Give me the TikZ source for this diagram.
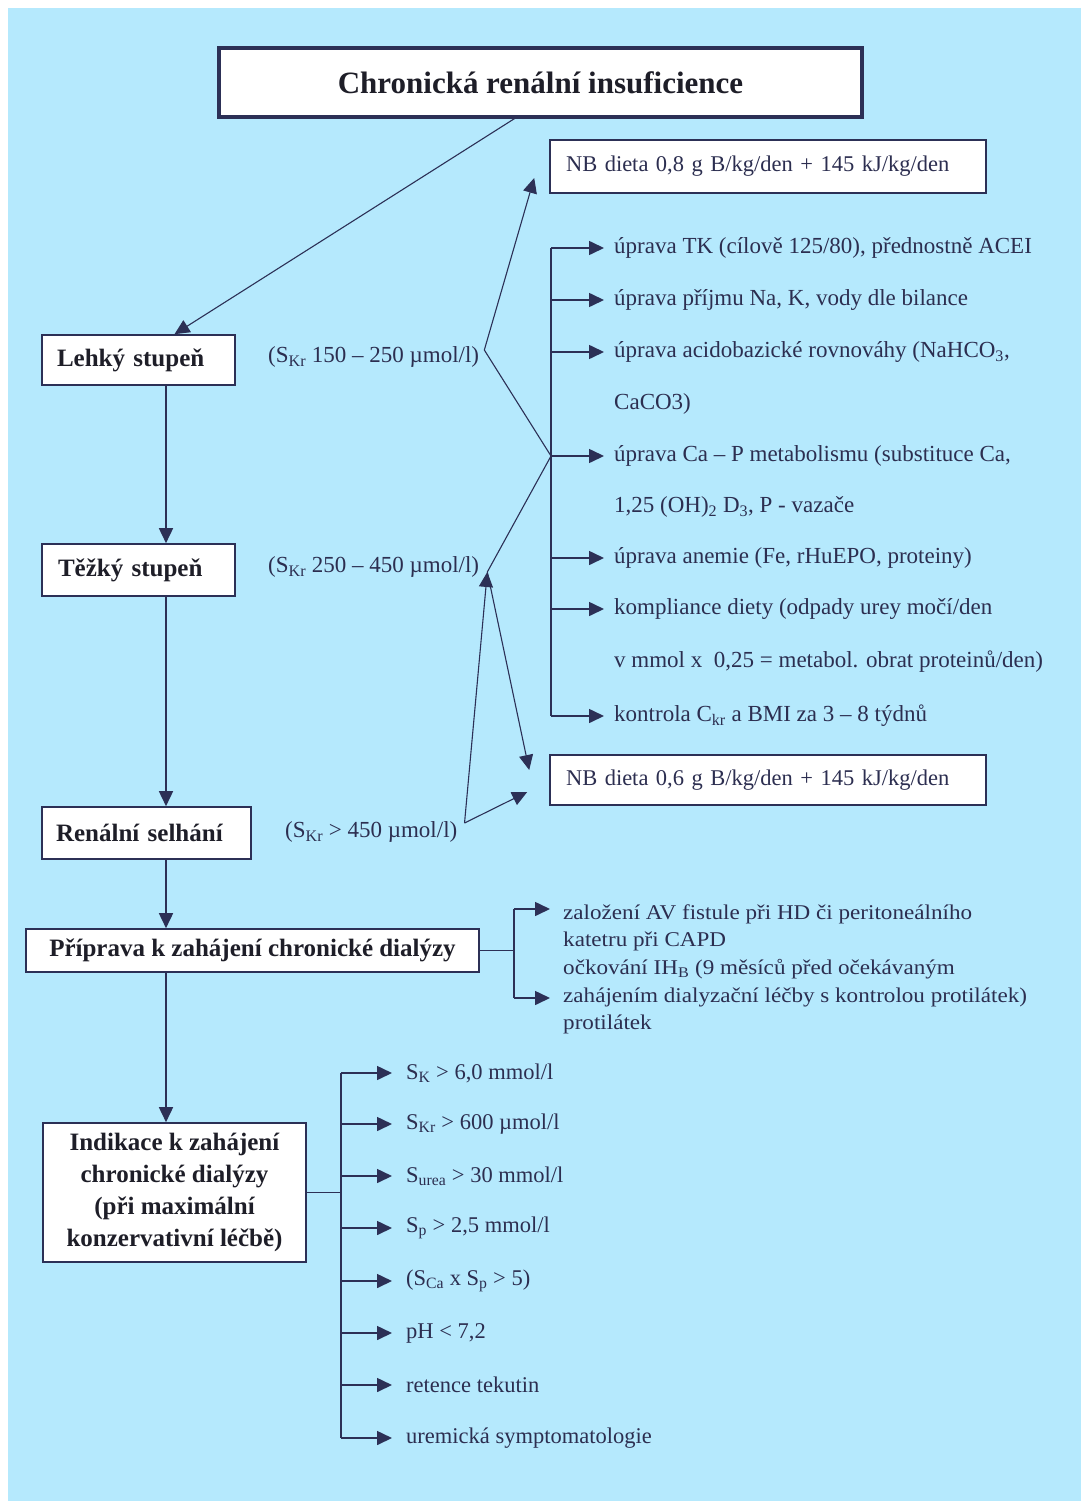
\documentclass[tikz,border=0pt]{standalone}
\usepackage{fontspec}
\setmainfont{Liberation Serif}
\newfontfamily\wideserif{Liberation Serif}[FakeStretch=1.1]
\usetikzlibrary{arrows.meta,calc}
\definecolor{bg}{RGB}{181,233,253}
\definecolor{linec}{RGB}{44,48,86}
\definecolor{labtext}{RGB}{44,46,80}
\definecolor{boxtext}{RGB}{30,30,40}
\tikzset{
  box/.style={draw=linec, fill=white, line width=1.6pt, inner sep=0pt, text=boxtext},
  boxfont/.style={font=\fontsize{25}{32}\selectfont\bfseries},
  lab/.style={inner sep=0pt, anchor=west, text=labtext, font=\fontsize{23}{27}\selectfont},
  itemtxt/.style={inner sep=0pt, anchor=west, text=labtext, font=\fontsize{23}{27}\selectfont},
  preptxt/.style={inner sep=0pt, anchor=west, text=labtext, font=\wideserif\fontsize{21}{25}\selectfont},
  indtxt/.style={inner sep=0pt, anchor=west, text=labtext, font=\fontsize{22.5}{27}\selectfont},
  ln/.style={draw=linec, line width=1.6pt},
  thin/.style={draw=linec, line width=1.1pt},
  tip/.style={-{Triangle[length=15pt,width=14pt]}},
  arr/.style={draw=linec, line width=1.6pt, tip},
  thinarr/.style={draw=linec, line width=1.1pt, tip},
}
\begin{document}
\begin{tikzpicture}[x=1pt,y=-1pt]
\useasboundingbox (0,0) rectangle (1081,1501);
\fill[white] (0,0) rectangle (1081,1501);
\fill[bg] (8,8) rectangle (1081,1501);

% main boxes
\node[box, line width=3.2pt, minimum width=643pt, minimum height=69pt,
      font=\fontsize{31}{36}\selectfont\bfseries] (title) at (540.5,82.5) {Chronická renální insuficience};
\node[box, boxfont, minimum width=193pt, minimum height=50pt, text width=163pt, align=left] (lehky) at (138.5,360) {Lehký stupeň};
\node[box, boxfont, minimum width=193pt, minimum height=52pt, text width=161pt, align=left] (tezky) at (138.5,570) {Těžký stupeň};
\node[box, boxfont, minimum width=209pt, minimum height=52pt, text width=181pt, align=left] (renal) at (146.5,833) {Renální selhání};
\node[box, boxfont, minimum width=453pt, minimum height=43pt] (prip) at (252.5,950.5) {Příprava k zahájení chronické dialýzy};
\node[box, boxfont, minimum width=263pt, minimum height=139pt, align=center] (ind) at (174.5,1192.5)
  {Indikace k zahájení\\chronické dialýzy\\(při maximální\\konzervativní léčbě)};

% diet boxes
\node[box, minimum width=436pt, minimum height=53pt, text width=404pt, align=left,
      font=\fontsize{22.5}{27}\selectfont, text=labtext] (nb1) at (768,166.5) {NB dieta 0,8 g B/kg/den + 145 kJ/kg/den};
\node[box, minimum width=436pt, minimum height=50pt, text width=404pt, align=left,
      font=\fontsize{22.5}{27}\selectfont, text=labtext] (nb2) at (768,780) {NB dieta 0,6 g B/kg/den + 145 kJ/kg/den};

% stage labels
\node[lab] (l1) at (268,357) {(S\textsubscript{Kr} 150 – 250 µmol/l)};
\node[lab] (l2) at (268,567) {(S\textsubscript{Kr} 250 – 450 µmol/l)};
\node[lab] (l3) at (285,832) {(S\textsubscript{Kr} > 450 µmol/l)};

% right treatment list
\node[itemtxt] (it1) at (614,248) {úprava TK (cílově 125/80), přednostně ACEI};
\node[itemtxt] (it2) at (614,300) {úprava příjmu Na, K, vody dle bilance};
\node[itemtxt] (it3) at (614,352) {úprava acidobazické rovnováhy (NaHCO\textsubscript{3},};
\node[itemtxt] (it3b) at (614,404) {CaCO3)};
\node[itemtxt] (it4) at (614,456) {úprava Ca – P metabolismu (substituce Ca,};
\node[itemtxt] (it4b) at (614,507) {1,25 (OH)\textsubscript{2} D\textsubscript{3}, P - vazače};
\node[itemtxt] (it5) at (614,558) {úprava anemie (Fe, rHuEPO, proteiny)};
\node[itemtxt] (it6) at (614,609) {kompliance diety (odpady urey močí/den};
\node[itemtxt] (it6b) at (614,662) {v mmol x \ 0,25 = metabol. obrat proteinů/den)};
\node[itemtxt] (it7) at (614,716) {kontrola C\textsubscript{kr} a BMI za 3 – 8 týdnů};

% preparation list
\node[preptxt] (pt1) at (563,914) {založení AV fistule při HD či peritoneálního};
\node[preptxt] (pt2) at (563,941) {katetru při CAPD};
\node[preptxt] (pt3) at (563,969) {očkování IH\textsubscript{B} (9 měsíců před očekávaným};
\node[preptxt] (pt4) at (563,997) {zahájením dialyzační léčby s kontrolou protilátek)};
\node[preptxt] (pt5) at (563,1024) {protilátek};

% indication list
\node[indtxt] (in1) at (406,1073) {S\textsubscript{K} > 6,0 mmol/l};
\node[indtxt] (in2) at (406,1124) {S\textsubscript{Kr} > 600 µmol/l};
\node[indtxt] (in3) at (406,1176) {S\textsubscript{urea} > 30 mmol/l};
\node[indtxt] (in4) at (406,1228) {S\textsubscript{p} > 2,5 mmol/l};
\node[indtxt] (in5) at (406,1281) {(S\textsubscript{Ca} x S\textsubscript{p} > 5)};
\node[indtxt] (in6) at (406,1333) {pH < 7,2};
\node[indtxt] (in7) at (406,1385) {retence tekutin};
\node[indtxt] (in8) at (406,1438) {uremická symptomatologie};

% helper coordinates
\coordinate (sL) at (166,0);
\coordinate (sR) at (551,0);
\coordinate (sP) at (514,0);
\coordinate (sI) at (341,0);
\coordinate (v1) at ($(l1.east)+(5,-7)$);
\coordinate (v2) at ($(l2.east)+(8,5)$);
\coordinate (v3) at ($(l3.east)+(7,-9)$);
\coordinate (pa1) at (550,909);
\coordinate (pa2) at (550,998);

% main spine
\draw[arr] (lehky.south -| sL) -- (tezky.north -| sL);
\draw[arr] (tezky.south -| sL) -- (renal.north -| sL);
\draw[arr] (renal.south -| sL) -- (prip.north -| sL);
\draw[arr] (prip.south -| sL) -- (ind.north -| sL);

% title to first stage
\draw[thinarr] ([xshift=-26pt]title.south) -- ([xshift=36pt]lehky.north);

% stage connectors
\draw[thinarr] (v1) -- ($(nb1.west)+(-15,11.5)$);
\draw[thin] (v1) -- (it4.west -| sR);
\draw[thin] (it4.west -| sR) -- (v2);
\draw[thinarr] (v3) -- (v2);
\draw[thinarr] (v2) -- ($(nb2.west)+(-20,-10)$);
\draw[thinarr] (v3) -- ($(nb2.west)+(-22,12)$);

% right list branches
\draw[ln] (it1.west -| sR) -- (it7.west -| sR);
\foreach \n in {it1,it2,it3,it4,it5,it6,it7}
  \draw[arr] (\n.west -| sR) -- ([xshift=-10pt]\n.west);

% preparation branch
\draw[ln] (prip.east) -- (prip.east -| sP);
\draw[ln] (pa1 -| sP) -- (pa2 -| sP);
\draw[arr] (pa1 -| sP) -- (pa1);
\draw[arr] (pa2 -| sP) -- (pa2);

% indication branch
\draw[ln] (ind.east) -- (ind.east -| sI);
\draw[ln] (in1.west -| sI) -- (in8.west -| sI);
\foreach \n in {in1,in2,in3,in4,in5,in6,in7,in8}
  \draw[arr] (\n.west -| sI) -- ([xshift=-14pt]\n.west);
\end{tikzpicture}
\end{document}
